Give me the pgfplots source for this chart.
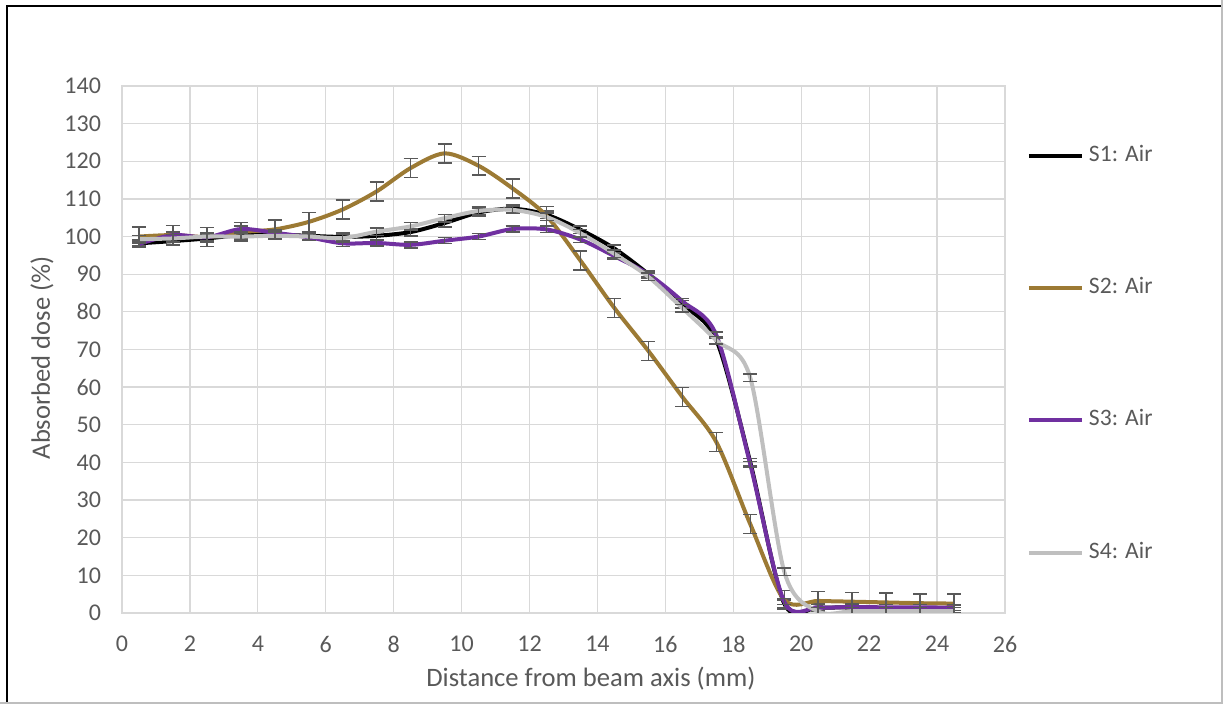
\documentclass[border=0pt]{standalone}
\usepackage{fontspec}
\setmainfont{Carlito}
\usepackage{pgfplots}
\pgfplotsset{compat=1.18}
\usepackage{pgfplotstable}
\definecolor{sone}{HTML}{000000}
\definecolor{stwo}{HTML}{9C7A34}
\definecolor{sthree}{HTML}{7030A0}
\definecolor{sfour}{HTML}{BFBFBF}
\definecolor{gridc}{HTML}{D9D9D9}
\definecolor{txt}{HTML}{595959}
\definecolor{errc}{HTML}{595959}

\pgfplotstableread{
x s1 s2 s3 s4
0.5 98.2 100.0 98.0 99.3
1.5 98.8 100.4 100.4 99.5
2.5 99.5 99.9 99.8 100.0
3.5 100.4 101.2 102.0 100.0
4.5 100.5 101.9 101.0 100.2
5.5 100.2 103.9 99.8 100.0
6.5 99.9 107.2 98.2 99.6
7.5 100.2 112.0 98.3 101.3
8.5 101.2 118.2 97.8 102.7
9.5 103.6 122.1 98.9 104.9
10.5 106.4 118.8 100.0 106.8
11.5 107.4 112.8 102.0 107.1
12.5 105.8 105.5 101.9 105.2
13.5 101.8 93.6 99.2 100.9
14.5 96.8 81.0 94.8 95.4
15.5 90.0 69.6 90.0 89.3
16.5 82.0 57.4 82.8 81.0
17.5 72.5 45.4 73.8 72.4
18.5 40.0 23.6 39.5 62.5
19.5 2.5 3.5 3.0 11.0
20.5 1.5 3.2 1.5 0.4
21.5 1.5 3.0 1.6 0.5
22.5 1.3 2.8 1.5 0.5
23.5 1.2 2.6 1.5 0.5
24.5 1.0 2.5 1.4 0.5
}\datatable

\begin{document}
\begin{tikzpicture}
\useasboundingbox (-61pt,-45.5pt) rectangle (550.5pt,306.5pt);
\draw[black, line width=1pt] (-57.5pt,-45.5pt) -- (-57.5pt,303.25pt) -- (550.5pt,303.25pt);
\draw[gridc!70!gray, line width=0.8pt] (550pt,306.5pt) -- (550pt,-45pt) -- (-61pt,-45pt);
\begin{axis}[
  scale only axis,
  width=441.5pt, height=263.5pt,
  xmin=0, xmax=26, ymin=0, ymax=140,
  xtick distance=2, ytick distance=10,
  grid=major,
  grid style={gridc, line width=0.65pt},
  axis line style={gridc, line width=0.65pt},
  major tick length=0pt,
  tick label style={font=\fontsize{12}{14.4}\selectfont, text=txt},
  /pgf/number format/assume math mode=true,
  yticklabel style={xshift=-7pt},
  xticklabel style={yshift=-8pt},
  label style={font=\fontsize{13.3}{16}\selectfont, text=txt},
  xlabel={Distance from beam axis (mm)},
  ylabel={Absorbed dose (\%)},
  xlabel style={at={(axis description cs:0.531,-0.124)}, anchor=center},
  ylabel style={at={(axis description cs:-0.0906,0.484)}, anchor=center},
  every axis plot/.append style={line width=2pt, smooth, no markers},
  error bars/error bar style={errc, line width=0.75pt},
  error bars/error mark options={rotate=90, mark size=3.5pt, errc, line width=0.75pt},
  legend image code/.code={\draw[#1] (0pt,0pt) -- (26.5pt,0pt);},
  legend cell align=left,
  legend style={draw=none, fill=none, inner sep=0pt, outer sep=0pt,
    at={(rel axis cs:1.0249,0.887)}, anchor=north west,
    font=\fontsize{11.8}{14}\selectfont, text=txt,
    row sep=55.6pt, column sep=2.5pt,
    nodes={inner sep=0pt, text height=8pt, text depth=2.5pt}},
]
\addplot[sone, error bars/.cd, y dir=both, y fixed=1.0] table[x=x, y=s1] {\datatable};
\addlegendentry{S1: Air}
\addplot[stwo, error bars/.cd, y dir=both, y fixed=2.5] table[x=x, y=s2] {\datatable};
\addlegendentry{S2: Air}
\addplot[sthree, error bars/.cd, y dir=both, y fixed=0.8] table[x=x, y=s3] {\datatable};
\addlegendentry{S3: Air}
\addplot[sfour, error bars/.cd, y dir=both, y fixed=1.0] table[x=x, y=s4] {\datatable};
\addlegendentry{S4: Air}
\end{axis}
\end{tikzpicture}
\end{document}
